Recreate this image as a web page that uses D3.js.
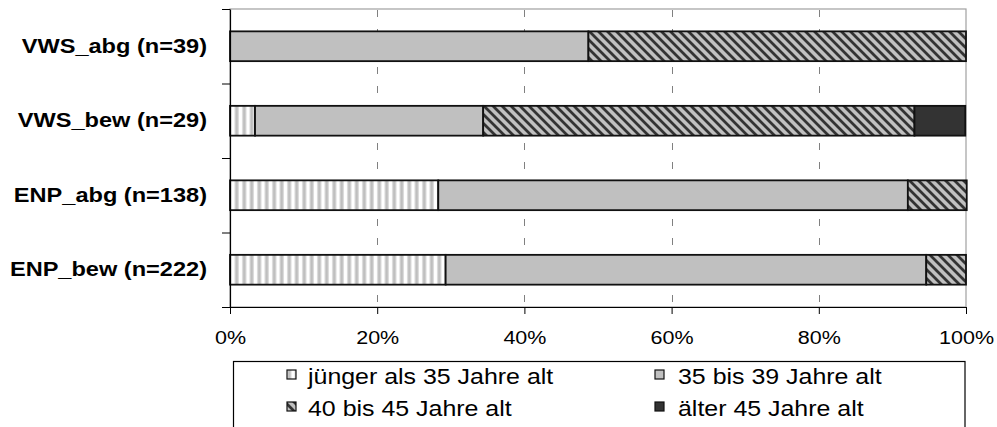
<!DOCTYPE html>
<html>
<head>
<meta charset="utf-8">
<script src="https://cdn.jsdelivr.net/npm/d3@7"></script>
<style>
  html, body { margin: 0; padding: 0; background: #fff; }
  svg { display: block; }
  text { font-family: "Liberation Sans", Arial, sans-serif; fill: #000; }
</style>
</head>
<body>
<svg id="chart" width="997" height="427"></svg>
<script>
const categories = ["VWS_abg (n=39)", "VWS_bew (n=29)", "ENP_abg (n=138)", "ENP_bew (n=222)"];
const seriesNames = ["jünger als 35 Jahre alt", "35 bis 39 Jahre alt", "40 bis 45 Jahre alt", "älter 45 Jahre alt"];
const young = [0, 3.4, 28.3, 29.3];
const mid = [48.7, 31.0, 63.8, 65.3];
const old = [51.3, 58.6, 8.0, 5.4];
const older = [0, 6.9, 0, 0];
const xTicks = [0, 20, 40, 60, 80, 100];

const seriesKeys = ["young", "mid", "old", "older"];
const rows = categories.map((c, i) => ({ cat: c, young: young[i], mid: mid[i], old: old[i], older: older[i] }));

const svg = d3.select("#chart");
svg.append("rect").attr("width", 997).attr("height", 427).attr("fill", "#fff");

const defs = svg.append("defs");
// vertical stripes
const pv = defs.append("pattern").attr("id", "pv").attr("patternUnits", "userSpaceOnUse")
  .attr("width", 7.5).attr("height", 10);
pv.append("rect").attr("width", 7.5).attr("height", 10).attr("fill", "#ffffff");
pv.append("rect").attr("x", 2).attr("width", 1).attr("height", 10).attr("fill", "#dcdcdc");
pv.append("rect").attr("x", 3).attr("width", 2.5).attr("height", 10).attr("fill", "#bbbbbb");
pv.append("rect").attr("x", 5.5).attr("width", 1).attr("height", 10).attr("fill", "#dcdcdc");
// diagonal hatch
const ph = defs.append("pattern").attr("id", "ph").attr("patternUnits", "userSpaceOnUse")
  .attr("width", 9).attr("height", 9);
ph.append("rect").attr("width", 9).attr("height", 9).attr("fill", "#c0c0c0");
ph.append("path").attr("d", "M0,0L9,9M-3,6L3,12M6,-3L12,3")
  .attr("stroke", "#333").attr("stroke-width", 2.8);

const fills = { young: "url(#pv)", mid: "#c0c0c0", old: "url(#ph)", older: "#333333" };

const L = 230, R = 966, T = 9, B = 307;
const SX = 1.15;

const x = d3.scaleLinear().domain([0, 100]).range([L, R]);
const y = d3.scaleBand().domain(categories).range([T, B]).paddingInner(0.6).paddingOuter(0.3);
const yB = d3.scaleLinear().domain([0, categories.length]).range([T, B]);

// plot frame (gray top/right)
svg.append("rect").attr("x", L).attr("y", T).attr("width", R - L).attr("height", B - T)
  .attr("fill", "none").attr("stroke", "#a0a0a0").attr("stroke-width", 1.2);

// gridlines
svg.append("g").selectAll("line").data(xTicks.slice(1, -1)).join("line")
  .attr("x1", d => Math.round(x(d)) + 0.5).attr("x2", d => Math.round(x(d)) + 0.5)
  .attr("y1", T + 1).attr("y2", B)
  .attr("stroke", "#808080").attr("stroke-width", 1).attr("stroke-dasharray", "7,12");

// bars
const stack = d3.stack().keys(seriesKeys);
const stacked = stack(rows);
const gBars = svg.append("g");
stacked.forEach(s => {
  gBars.append("g").selectAll("rect").data(s.filter(d => d[1] - d[0] > 0)).join("rect")
    .attr("x", d => x(d[0]))
    .attr("y", d => y(d.data.cat))
    .attr("width", d => x(d[1]) - x(d[0]))
    .attr("height", y.bandwidth())
    .attr("fill", fills[s.key])
    .attr("stroke", "#111")
    .attr("stroke-width", 1.8);
});

// x axis
const xAxis = svg.append("g").attr("transform", `translate(0,${B})`)
  .call(d3.axisBottom(x).tickValues(xTicks).tickFormat(d => d + "%").tickSize(7).tickPadding(17).tickSizeOuter(0));
xAxis.select(".domain").attr("stroke", "#000").attr("stroke-width", 1.2);
xAxis.selectAll(".tick line").attr("stroke", "#000");
xAxis.selectAll("text").attr("font-size", 18.7).attr("transform", `scale(${SX},1)`)
  .style("font-family", "'Liberation Sans', Arial, sans-serif");

// y axis ticks at boundaries
const yAxisT = svg.append("g").attr("transform", `translate(${L},0)`)
  .call(d3.axisLeft(yB).tickValues(d3.range(categories.length + 1)).tickFormat("").tickSize(8).tickSizeOuter(0));
yAxisT.select(".domain").attr("stroke", "#000").attr("stroke-width", 1.2);
yAxisT.selectAll(".tick line").attr("stroke", "#000");

// y axis labels
const yAxisL = svg.append("g").attr("transform", `translate(${L},0)`)
  .call(d3.axisLeft(y).tickSize(0).tickPadding(20));
yAxisL.select(".domain").remove();
yAxisL.selectAll("text").attr("font-size", 20.5).attr("font-weight", "bold")
  .attr("transform", `scale(${SX},1)`)
  .style("font-family", "'Liberation Sans', Arial, sans-serif");

// legend
const lg = svg.append("g");
lg.append("rect").attr("x", 233.5).attr("y", 361.5).attr("width", 731.5).attr("height", 80)
  .attr("fill", "#fff").attr("stroke", "#000").attr("stroke-width", 1.2);
const legPos = [
  { sx: 287, sy: 370, tx: 308, ty: 384 },
  { sx: 655, sy: 370, tx: 678, ty: 384 },
  { sx: 287, sy: 402, tx: 308, ty: 416 },
  { sx: 655, sy: 402, tx: 678, ty: 416 }
];
seriesKeys.forEach((k, i) => {
  const p = legPos[i];
  lg.append("rect").attr("x", p.sx).attr("y", p.sy).attr("width", 9).attr("height", 9)
    .attr("fill", fills[k]).attr("stroke", "#111").attr("stroke-width", 1.2);
  lg.append("text").attr("transform", `translate(${p.tx},${p.ty}) scale(1.16,1)`)
    .attr("font-size", 21.5).text(seriesNames[i]);
});
</script>
</body>
</html>
